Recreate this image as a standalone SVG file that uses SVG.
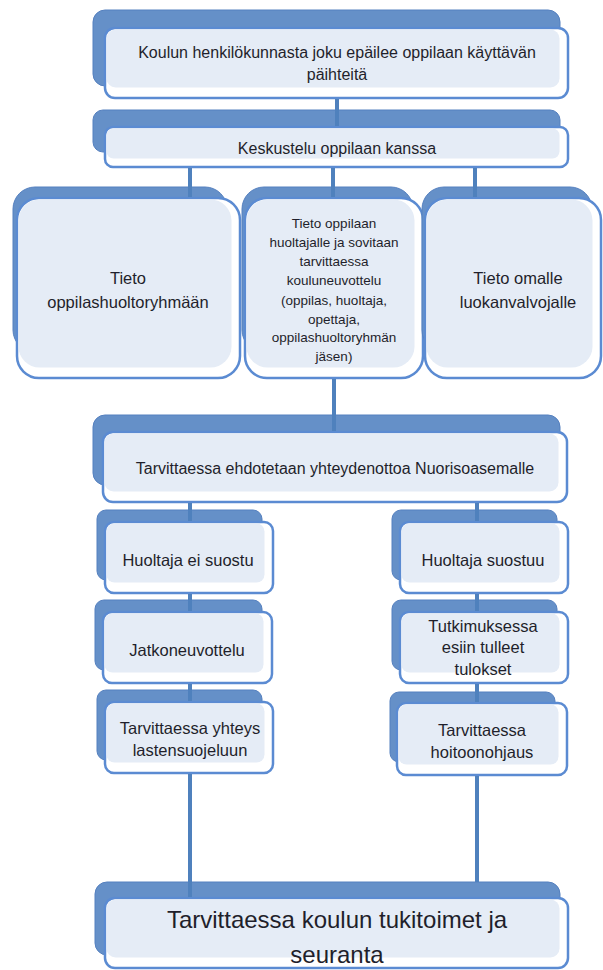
<svg xmlns="http://www.w3.org/2000/svg" width="603" height="970" viewBox="0 0 603 970">
<style>
.back{fill:#6590c8;stroke:#5580bf;stroke-width:1}
.front{fill:#ffffff;stroke:#5b8bd2;stroke-width:2.5}
.inner{fill:#e5ecf6}
.conn{stroke:#4f81bd;stroke-width:4;fill:none}
text{font-family:"Liberation Sans",Arial,sans-serif;fill:#1f1f2b;text-anchor:middle}
.t16{font-size:16px}
.t165{font-size:16.5px}
.t13{font-size:13.5px}
.t24{font-size:24px}
</style>
<rect width="603" height="970" fill="#ffffff"/>
<g id="n1">
<rect class="back" x="93" y="10" width="467" height="76" rx="12"/>
<rect class="front" x="105" y="28" width="463" height="70" rx="10"/>
<rect class="inner" x="106.5" y="29.5" width="453" height="58" rx="9"/>
<text class="t16" x="337" y="58">Koulun henkilökunnasta joku epäilee oppilaan käyttävän</text>
<text class="t16" x="337" y="80">päihteitä</text>
</g>
<g id="n2">
<rect class="back" x="93" y="110" width="467" height="42" rx="10"/>
<rect class="front" x="105" y="127" width="463" height="40" rx="8"/>
<rect class="inner" x="106.5" y="128.5" width="453" height="30" rx="7"/>
<text class="t16" x="337" y="153.5">Keskustelu oppilaan kanssa</text>
</g>
<g id="n3a">
<rect class="back" x="13" y="187" width="214" height="165" rx="22"/>
<rect class="front" x="17" y="198" width="223" height="180" rx="22"/>
<rect class="inner" x="18.5" y="199.5" width="213" height="168" rx="21"/>
<text class="t165" x="128" y="284">Tieto</text>
<text class="t165" x="128" y="308">oppilashuoltoryhmään</text>
</g>
<g id="n3b">
<rect class="back" x="242" y="187" width="171" height="165" rx="22"/>
<rect class="front" x="245" y="198" width="178" height="180" rx="22"/>
<rect class="inner" x="246.5" y="199.5" width="168" height="168" rx="21"/>
<text class="t13" x="334" y="227.5">Tieto oppilaan</text>
<text class="t13" x="334" y="246.5">huoltajalle ja sovitaan</text>
<text class="t13" x="334" y="265.5">tarvittaessa</text>
<text class="t13" x="334" y="284.5">kouluneuvottelu</text>
<text class="t13" x="334" y="304.5">(oppilas, huoltaja,</text>
<text class="t13" x="334" y="323.5">opettaja,</text>
<text class="t13" x="334" y="341.5">oppilashuoltoryhmän</text>
<text class="t13" x="334" y="360.5">jäsen)</text>
</g>
<g id="n3c">
<rect class="back" x="422" y="187" width="170" height="165" rx="22"/>
<rect class="front" x="425" y="198" width="176" height="180" rx="22"/>
<rect class="inner" x="426.5" y="199.5" width="166" height="168" rx="21"/>
<text class="t165" x="518" y="284">Tieto omalle</text>
<text class="t165" x="518" y="308">luokanvalvojalle</text>
</g>
<g id="n4">
<rect class="back" x="93" y="415" width="467" height="70" rx="12"/>
<rect class="front" x="103" y="432" width="464" height="70" rx="10"/>
<rect class="inner" x="104.5" y="433.5" width="454" height="58" rx="9"/>
<text class="t16" x="335" y="473.5">Tarvittaessa ehdotetaan yhteydenottoa Nuorisoasemalle</text>
</g>
<g id="n5a">
<rect class="back" x="97" y="510" width="165" height="70" rx="9"/>
<rect class="front" x="105" y="522" width="168" height="71" rx="9"/>
<rect class="inner" x="106.5" y="523.5" width="158" height="59" rx="8"/>
<text class="t165" x="188" y="566">Huoltaja ei suostu</text>
</g>
<g id="n6a">
<rect class="back" x="95" y="600" width="167" height="70" rx="9"/>
<rect class="front" x="103" y="612" width="169" height="71" rx="9"/>
<rect class="inner" x="104.5" y="613.5" width="159" height="59" rx="8"/>
<text class="t165" x="187" y="656">Jatkoneuvottelu</text>
</g>
<g id="n7a">
<rect class="back" x="97" y="690" width="165" height="70" rx="9"/>
<rect class="front" x="105" y="702" width="168" height="71" rx="9"/>
<rect class="inner" x="106.5" y="703.5" width="158" height="59" rx="8"/>
<text class="t165" x="190" y="734">Tarvittaessa yhteys</text>
<text class="t165" x="190" y="756">lastensuojeluun</text>
</g>
<g id="n5b">
<rect class="back" x="392" y="510" width="165" height="70" rx="9"/>
<rect class="front" x="400" y="522" width="168" height="71" rx="9"/>
<rect class="inner" x="401.5" y="523.5" width="158" height="59" rx="8"/>
<text class="t165" x="483" y="566">Huoltaja suostuu</text>
</g>
<g id="n6b">
<rect class="back" x="392" y="600" width="165" height="70" rx="9"/>
<rect class="front" x="400" y="612" width="168" height="71" rx="9"/>
<rect class="inner" x="401.5" y="613.5" width="158" height="59" rx="8"/>
<text class="t165" x="483" y="632">Tutkimuksessa</text>
<text class="t165" x="483" y="653">esiin tulleet</text>
<text class="t165" x="483" y="675">tulokset</text>
</g>
<g id="n7b">
<rect class="back" x="390" y="692" width="165" height="70" rx="9"/>
<rect class="front" x="397" y="703" width="170" height="72" rx="9"/>
<rect class="inner" x="398.5" y="704.5" width="160" height="60" rx="8"/>
<text class="t165" x="482" y="736">Tarvittaessa</text>
<text class="t165" x="482" y="758">hoitoonohjaus</text>
</g>
<g id="n8">
<rect class="back" x="95" y="882" width="465" height="73" rx="12"/>
<rect class="front" x="105" y="898" width="463" height="70" rx="10"/>
<rect class="inner" x="106.5" y="899.5" width="453" height="58" rx="9"/>
<text class="t24" x="337" y="928">Tarvittaessa koulun tukitoimet ja</text>
<text class="t24" x="337" y="963">seuranta</text>
</g>
<g id="connectors">
<line class="conn" x1="337" y1="99" x2="337" y2="126"/>
<line class="conn" x1="190" y1="168" x2="190" y2="197"/>
<line class="conn" x1="333" y1="168" x2="333" y2="197"/>
<line class="conn" x1="475" y1="168" x2="475" y2="197"/>
<line class="conn" x1="334" y1="379" x2="334" y2="431"/>
<line class="conn" x1="190" y1="503" x2="190" y2="521"/>
<line class="conn" x1="477" y1="503" x2="477" y2="521"/>
<line class="conn" x1="190" y1="594" x2="190" y2="611"/>
<line class="conn" x1="190" y1="684" x2="190" y2="701"/>
<line class="conn" x1="190" y1="774" x2="190" y2="897"/>
<line class="conn" x1="477" y1="594" x2="477" y2="611"/>
<line class="conn" x1="477" y1="684" x2="477" y2="702"/>
<line class="conn" x1="477" y1="776" x2="477" y2="882"/>
</g>
</svg>
